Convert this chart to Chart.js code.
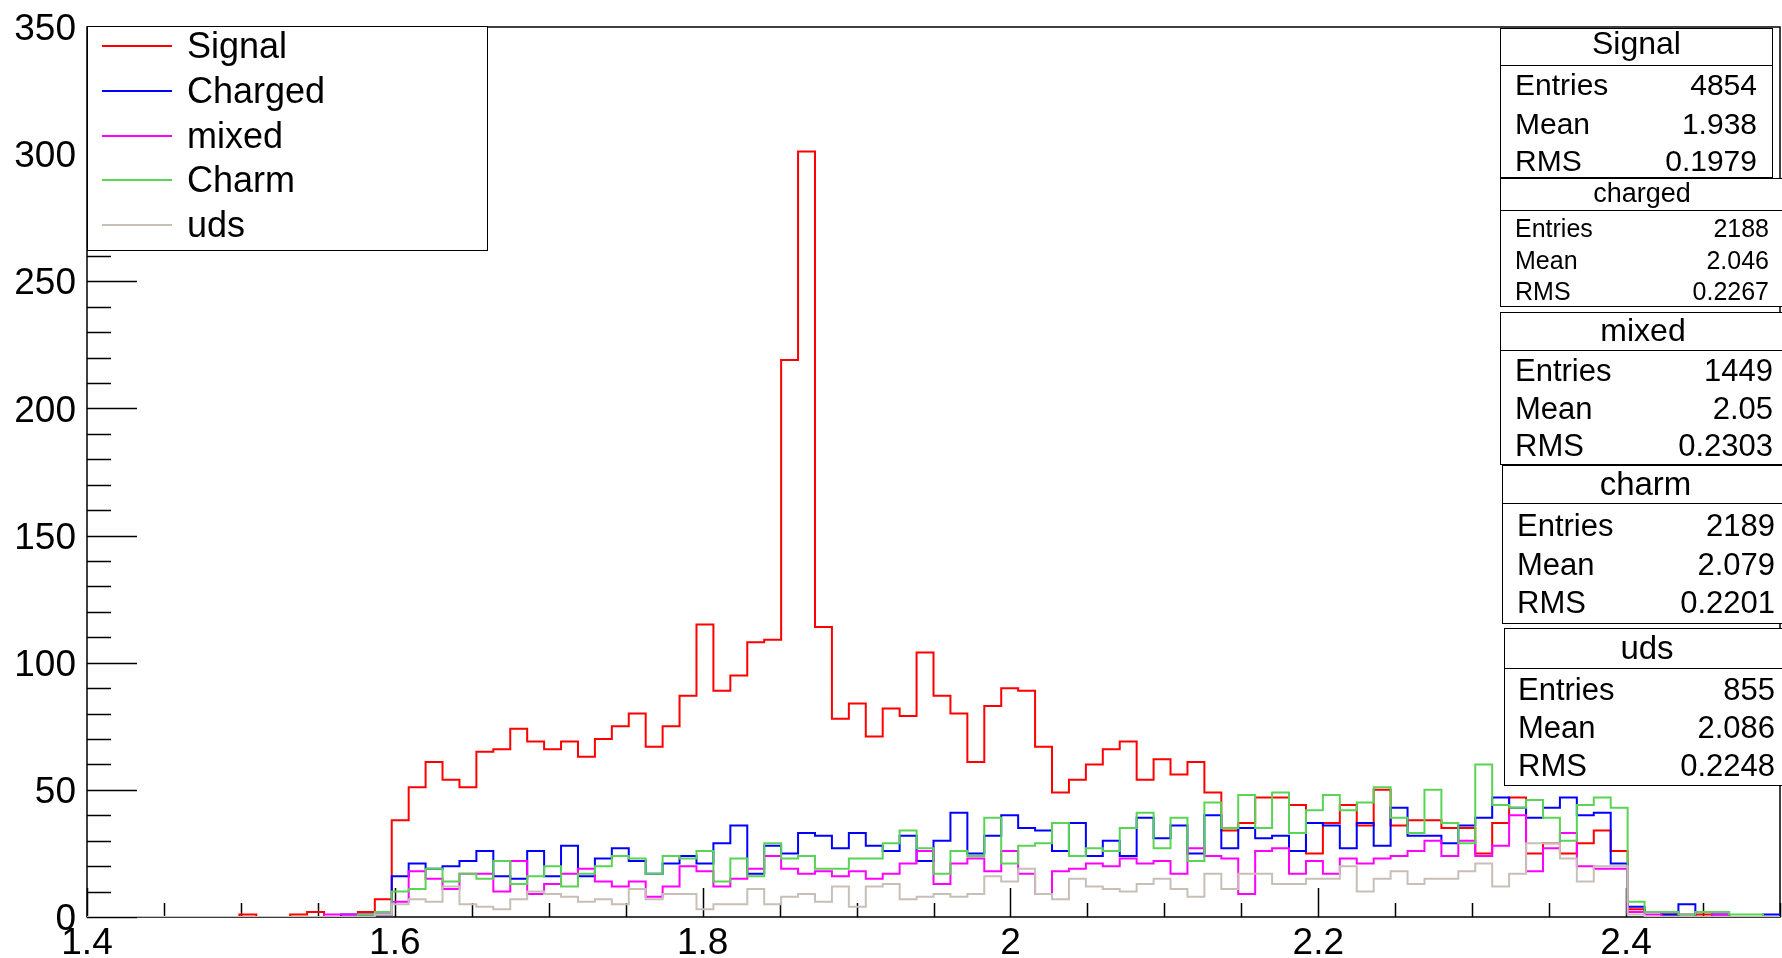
<!DOCTYPE html>
<html>
<head>
<meta charset="utf-8">
<title>Signal / background histograms</title>
<script src="https://cdn.jsdelivr.net/npm/chart.js@4.4.1/dist/chart.umd.min.js"></script>
<style>
    body { margin: 0; background: #fff; overflow: hidden; font-family: "Liberation Sans", Arial, sans-serif; }
    #wrap { position: relative; width: 1782px; height: 958px; overflow: hidden; }
    #chart { position: absolute; left: 0; top: 0; }
    .box { position: absolute; background: #fff; border: 1.5px solid #000; box-sizing: border-box; }
    .txt { position: absolute; white-space: nowrap; line-height: 1; transform: translateY(-50%); color: #000; }
    .sep { position: absolute; height: 0; border-top: 1.5px solid #000; }
    .key { position: absolute; height: 0; border-top: 2px solid; }
</style>
</head>
<body>
<div id="wrap">
    <canvas id="chart" width="1782" height="958"></canvas>
</div>
<script>
// histogram: 100 bins from 1.4 to 2.5
const xLow = 1.4;
const xHigh = 2.5;
const nBins = 100;

const xTickLabels = [1.4, 1.6, 1.8, 2, 2.2, 2.4];
const yTickLabels = [0, 50, 100, 150, 200, 250, 300, 350];

const seriesNames = ['Signal', 'Charged', 'mixed', 'Charm', 'uds'];
const seriesColors = ['#ff0000', '#0000ff', '#ff00ff', '#59d454', '#c8bfb6'];

// bin contents
const signal = [
    0, 0, 0, 0, 0, 0, 0, 0, 0, 1,
    0, 0, 1, 2, 0, 0, 2, 7, 38, 51,
    61, 54, 51, 65, 66, 74, 69, 66, 69, 63,
    70, 75, 80, 67, 75, 87, 115, 89, 95, 108,
    109, 219, 301, 114, 78, 84, 71, 82, 79, 104,
    87, 80, 61, 83, 90, 89, 67, 49, 54, 60,
    66, 69, 54, 62, 56, 61, 49, 34, 37, 47,
    47, 44, 25, 37, 44, 36, 50, 36, 38, 38,
    35, 35, 25, 37, 47, 25, 29, 25, 29, 34,
    26, 3, 2, 1, 0, 1, 0, 0, 0, 0
];
const charged = [
    0, 0, 0, 0, 0, 0, 0, 0, 0, 0,
    0, 0, 0, 0, 0, 1, 1, 1, 16, 21,
    19, 20, 22, 26, 16, 15, 26, 16, 28, 16,
    23, 27, 22, 17, 21, 24, 21, 29, 36, 17,
    28, 25, 33, 32, 27, 33, 28, 26, 32, 22,
    30, 41, 25, 32, 40, 35, 34, 26, 37, 24,
    30, 24, 39, 31, 36, 25, 40, 27, 35, 31,
    32, 26, 37, 36, 27, 37, 28, 43, 32, 32,
    29, 36, 39, 47, 43, 39, 43, 47, 40, 41,
    21, 4, 2, 1, 5, 0, 1, 0, 0, 1
];
const mixed = [
    0, 0, 0, 0, 0, 0, 0, 0, 0, 0,
    0, 0, 0, 0, 1, 1, 1, 1, 6, 18,
    15, 11, 17, 17, 10, 22, 9, 13, 17, 19,
    14, 12, 14, 8, 12, 20, 18, 12, 15, 19,
    24, 19, 17, 18, 16, 18, 15, 17, 21, 26,
    13, 21, 23, 18, 26, 17, 9, 18, 19, 21,
    20, 23, 21, 22, 17, 27, 24, 23, 9, 26,
    27, 17, 22, 17, 23, 21, 23, 24, 26, 30,
    24, 30, 24, 28, 40, 18, 27, 33, 20, 19,
    19, 2, 1, 2, 1, 0, 1, 0, 0, 0
];
const charm = [
    0, 0, 0, 0, 0, 0, 0, 0, 0, 0,
    0, 0, 0, 0, 0, 0, 1, 2, 10, 11,
    19, 14, 17, 15, 22, 13, 16, 20, 12, 17,
    20, 24, 23, 17, 24, 23, 26, 14, 23, 16,
    29, 23, 24, 19, 19, 23, 23, 29, 34, 27,
    17, 26, 24, 39, 21, 28, 29, 37, 24, 27,
    26, 35, 41, 27, 39, 22, 45, 35, 48, 35,
    49, 33, 42, 48, 42, 45, 51, 39, 33, 50,
    37, 29, 60, 44, 43, 46, 39, 30, 44, 47,
    43, 6, 2, 2, 1, 2, 2, 1, 1, 0
];
const uds = [
    0, 0, 0, 0, 0, 0, 0, 0, 0, 0,
    0, 0, 0, 0, 0, 0, 0, 1, 5, 7,
    6, 12, 5, 4, 3, 7, 10, 9, 8, 6,
    7, 5, 11, 7, 9, 9, 3, 5, 5, 11,
    5, 8, 9, 6, 12, 4, 12, 13, 7, 8,
    9, 8, 9, 16, 14, 19, 9, 7, 15, 12,
    11, 10, 13, 15, 11, 8, 17, 11, 17, 17,
    13, 13, 15, 15, 20, 10, 15, 18, 13, 15,
    15, 18, 21, 12, 17, 29, 29, 23, 14, 20,
    20, 1, 0, 0, 0, 0, 0, 0, 0, 0
];

// stats boxes
const statTitles = ['Signal', 'charged', 'mixed', 'charm', 'uds'];
const statEntries = ['4854', '2188', '1449', '2189', '855'];
const statMeans = ['1.938', '2.046', '2.05', '2.079', '2.086'];
const statRms = ['0.1979', '0.2267', '0.2303', '0.2201', '0.2248'];

const seriesData = [signal, charged, mixed, charm, uds];
const binWidth = (xHigh - xLow) / nBins;

function histPoints(values) {
    // left edge of every bin, plus the right edge of the last one
    const pts = values.map((v, i) => ({ x: xLow + i * binWidth, y: v }));
    pts.push({ x: xHigh, y: values[values.length - 1] });
    return pts;
}

const fontFamily = '"Liberation Sans", Arial, sans-serif';

// ROOT-like frame with ticks pointing inwards
const framePlugin = {
    id: 'rootFrame',
    beforeDatasetsDraw(chart) {
        const { ctx, chartArea: a, scales } = chart;
        ctx.save();
        ctx.strokeStyle = '#000';
        ctx.lineWidth = 1.5;
        ctx.strokeRect(a.left, a.top, a.right - a.left, a.bottom - a.top);
        ctx.beginPath();
        for (let k = 0; k <= 22; k++) {
            const v = xLow + k * 0.05;
            const px = Math.round(scales.x.getPixelForValue(v)) + 0.5;
            const len = (k % 4 === 0) ? 29 : 14;
            ctx.moveTo(px, a.bottom);
            ctx.lineTo(px, a.bottom - len);
        }
        for (let v = 0; v <= 350; v += 10) {
            const py = Math.round(scales.y.getPixelForValue(v)) + 0.5;
            const len = (v % 50 === 0) ? 50 : 24;
            ctx.moveTo(a.left, py);
            ctx.lineTo(a.left + len, py);
        }
        ctx.stroke();
        ctx.restore();
    }
};

new Chart(document.getElementById('chart'), {
    type: 'line',
    data: {
        datasets: seriesData.map((vals, i) => ({
            label: seriesNames[i],
            data: histPoints(vals),
            borderColor: seriesColors[i],
            borderWidth: 2,
            stepped: 'before',
            pointRadius: 0,
            fill: false,
            order: seriesData.length - i
        }))
    },
    options: {
        responsive: false,
        animation: false,
        layout: { padding: { top: 27, right: 2, left: 0, bottom: 0 } },
        plugins: { legend: { display: false }, tooltip: { enabled: false } },
        scales: {
            x: {
                type: 'linear', min: xLow, max: xHigh,
                grid: { display: false }, border: { display: false },
                afterBuildTicks: s => { s.ticks = xTickLabels.map(v => ({ value: v })); },
                afterFit: s => { s.height = 41; s.paddingLeft = 0; s.paddingRight = 0; },
                ticks: {
                    color: '#000', padding: -3, maxRotation: 0, autoSkip: false,
                    font: { family: fontFamily, size: 37 },
                    callback: v => String(+v.toFixed(2))
                }
            },
            y: {
                min: 0, max: 350,
                grid: { display: false }, border: { display: false },
                afterBuildTicks: s => { s.ticks = yTickLabels.map(v => ({ value: v })); },
                afterFit: s => { s.width = 87; s.paddingTop = 0; s.paddingBottom = 0; },
                ticks: { color: '#000', padding: 3, labelOffset: 3, font: { family: fontFamily, size: 37 } }
            }
        }
    },
    plugins: [framePlugin]
});

// legend box (top left)
const wrap = document.getElementById('wrap');
const legend = document.createElement('div');
legend.className = 'box';
Object.assign(legend.style, { left: '87px', top: '26px', width: '401px', height: '225px' });
wrap.appendChild(legend);
seriesNames.forEach((name, i) => {
    const cy = 19 + i * 44.8;
    const key = document.createElement('div');
    key.className = 'key';
    Object.assign(key.style, { left: '14px', width: '70px', top: (cy - 1) + 'px', borderTopColor: seriesColors[i] });
    legend.appendChild(key);
    const t = document.createElement('div');
    t.className = 'txt';
    t.textContent = name;
    Object.assign(t.style, { left: '99px', top: cy + 'px', fontSize: '36px' });
    legend.appendChild(t);
});

// stats boxes (top right)
const statLayout = [
    { left: 1500, top: 28, right: 1773, sep: 65, bottom: 178, font: 30, titleFont: 32, titleShift: -3, rows: [85, 124, 161], textLeft: 1515, valRight: 1757 },
    { left: 1500, top: 178, right: 1784, sep: 210, bottom: 307, font: 25, titleFont: 27, titleShift: 0, rows: [228, 260, 291], textLeft: 1515, valRight: 1769 },
    { left: 1500, top: 312, right: 1786, sep: 350, bottom: 465, font: 31, titleFont: 32, titleShift: 0, rows: [370, 408, 445], textLeft: 1515, valRight: 1773 },
    { left: 1502, top: 465, right: 1789, sep: 503, bottom: 624, font: 31, titleFont: 33, titleShift: 0, rows: [525, 564, 602], textLeft: 1517, valRight: 1775 },
    { left: 1504, top: 628, right: 1790, sep: 668, bottom: 786, font: 31, titleFont: 33, titleShift: 0, rows: [689, 727, 765], textLeft: 1518, valRight: 1775 }
];

statLayout.forEach((L, i) => {
    const box = document.createElement('div');
    box.className = 'box';
    Object.assign(box.style, { left: L.left + 'px', top: L.top + 'px', width: (L.right - L.left) + 'px', height: (L.bottom - L.top) + 'px' });
    wrap.appendChild(box);

    const sep = document.createElement('div');
    sep.className = 'sep';
    Object.assign(sep.style, { left: L.left + 'px', width: (L.right - L.left) + 'px', top: L.sep + 'px' });
    wrap.appendChild(sep);

    const title = document.createElement('div');
    title.className = 'txt';
    title.textContent = statTitles[i];
    Object.assign(title.style, {
        left: ((L.left + L.right) / 2) + 'px', top: ((L.top + L.sep) / 2 - 1 + L.titleShift) + 'px',
        fontSize: L.titleFont + 'px', transform: 'translate(-50%, -50%)'
    });
    wrap.appendChild(title);

    const labels = ['Entries', 'Mean', 'RMS'];
    const values = [statEntries[i], statMeans[i], statRms[i]];
    labels.forEach((lab, r) => {
        const a = document.createElement('div');
        a.className = 'txt';
        a.textContent = lab;
        Object.assign(a.style, { left: L.textLeft + 'px', top: L.rows[r] + 'px', fontSize: L.font + 'px' });
        wrap.appendChild(a);
        const b = document.createElement('div');
        b.className = 'txt';
        b.textContent = values[r];
        Object.assign(b.style, { right: (1782 - L.valRight) + 'px', top: L.rows[r] + 'px', fontSize: L.font + 'px' });
        wrap.appendChild(b);
    });
});
</script>
</body>
</html>
